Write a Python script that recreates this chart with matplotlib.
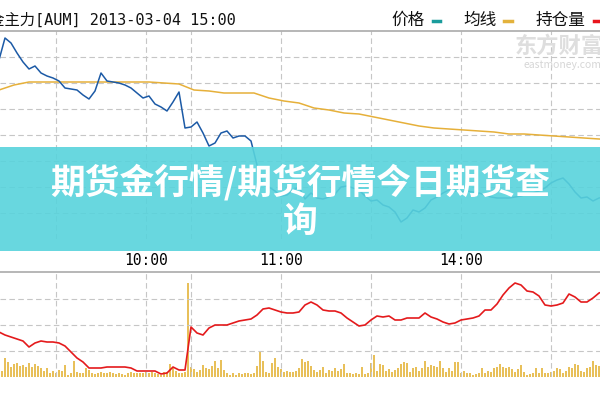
import matplotlib
matplotlib.use("Agg")
import matplotlib.pyplot as plt
from matplotlib.patches import Rectangle
from matplotlib.lines import Line2D
import numpy as np

plt.rcParams['font.family'] = ['Noto Sans CJK SC', 'DejaVu Sans']

# 黄金主力 AUM 分时图, 2013-03-04
# x axis = trading minutes counted from 9:00 (breaks 10:15-10:30 and 11:30-13:30 removed)
header = '黄金主力[AUM] 2013-03-04 15:00'
title = '期货金行情/期货行情今日期货查\n询'
legend_names = ['价格', '均线', '持仓量']
legend_colors = ['#1a9c9c', '#e3b23c', '#e8141c']

tick_minutes = [30, 60, 75, 105, 135, 165, 195]
tick_labels = ['', '10:00', '', '11:00', '', '14:00', '']

# price, one value every 2 minutes starting at minute 11
price = [344.0, 346.2, 345.7, 344.7, 343.8, 343.1, 343.4, 342.7, 342.4, 342.2,
         341.9, 341.2, 341.1, 341.0, 340.5, 340.1, 340.9, 342.7, 341.9, 341.8,
         341.7, 341.5, 341.2, 340.7, 340.2, 340.4, 339.6, 339.3, 338.9, 339.8,
         340.8, 337.2, 337.3, 337.8, 336.7, 335.4, 335.7, 336.7, 336.9, 336.2,
         336.4, 336.4, 335.9, 333.5, 331.5, 331.3, 330.9, 330.4, 330.5, 331.0,
         331.3, 330.1, 330.7, 330.2, 330.1, 330.3, 330.6, 331.3, 331.4, 331.2,
         331.0, 330.4, 329.9, 330.0, 329.5, 329.3, 328.8, 327.8, 328.2, 329.0,
         328.8, 329.2, 330.0, 330.3, 330.7, 331.0, 330.9, 330.8, 330.9, 330.8,
         330.7, 330.5, 330.3, 330.2, 330.2, 330.2, 330.3, 330.4, 330.6, 330.7,
         330.9, 331.2, 331.7, 332.0, 332.2, 331.6, 330.8, 330.2, 330.3, 329.9,
         330.2, 330.3]

# average price, one value every 5 minutes starting at minute 11
avg_price = [341.0, 341.5, 341.8, 341.8, 341.8, 341.8, 341.8, 341.8, 341.8, 341.8,
             341.8, 341.7, 341.6, 341.0, 340.9, 340.7, 340.7, 340.7, 340.2, 339.9,
             339.7, 339.2, 339.0, 338.7, 338.6, 338.3, 338.0, 337.7, 337.4, 337.2,
             337.1, 337.0, 336.9, 336.8, 336.6, 336.6, 336.5, 336.4, 336.3, 336.2,
             336.1, 336.0]

# open interest (hundred lots), one value every 2 minutes starting at minute 11
open_int = [668, 665, 663, 661, 659, 653, 657, 659, 658, 658,
            657, 654, 648, 642, 638, 632, 632, 632, 633, 633,
            633, 633, 632, 629, 629, 629, 629, 626, 627, 633,
            630, 630, 673, 667, 665, 672, 675, 675, 675, 677,
            679, 680, 681, 685, 691, 692, 690, 688, 687, 687,
            688, 695, 698, 695, 690, 689, 689, 687, 682, 678,
            674, 675, 680, 684, 683, 684, 680, 680, 682, 682,
            682, 687, 683, 681, 678, 676, 677, 680, 681, 682,
            684, 690, 690, 696, 705, 712, 717, 715, 709, 708,
            704, 695, 694, 695, 697, 706, 703, 698, 698, 702,
            707, 709]

# volume (x10 lots), one bar per minute starting at minute 11
volume = [8, 6, 19, 15, 10, 13, 14, 11, 12, 10, 14, 10, 13, 11, 9, 6, 9, 4, 6, 4,
          7, 6, 12, 2, 4, 16, 5, 4, 4, 9, 7, 4, 3, 4, 5, 4, 4, 5, 4, 3,
          4, 3, 2, 4, 5, 4, 4, 4, 4, 5, 4, 5, 4, 3, 2, 5, 5, 13, 10, 6,
          4, 4, 5, 94, 10, 8, 5, 7, 12, 9, 8, 11, 16, 9, 17, 7, 4, 2, 4, 2,
          4, 3, 4, 4, 3, 4, 11, 25, 16, 5, 4, 14, 19, 10, 8, 5, 6, 5, 5, 6,
          9, 18, 15, 16, 11, 7, 5, 7, 10, 4, 7, 6, 9, 6, 8, 13, 4, 4, 3, 4,
          3, 10, 3, 4, 14, 22, 6, 13, 12, 6, 8, 5, 7, 9, 13, 15, 14, 5, 9, 10,
          6, 9, 16, 10, 12, 11, 10, 16, 9, 5, 9, 6, 15, 15, 4, 6, 4, 4, 2, 3,
          4, 9, 4, 6, 5, 9, 10, 13, 10, 9, 10, 8, 5, 8, 12, 5, 2, 3, 4, 9,
          4, 9, 4, 4, 5, 6, 9, 8, 4, 6, 10, 9, 13, 12, 6, 5, 9, 10, 16, 12,
          11, 7, 6]

t_price = 11 + 2 * np.arange(len(price))
t_avg = 11 + 5 * np.arange(len(avg_price))
t_oi = 11 + 2 * np.arange(len(open_int))
t_vol = 11 + np.arange(len(volume))

grid_kw = dict(color='#c6c6c6', linestyle=(0, (5, 3)), linewidth=0.8)

fig = plt.figure(figsize=(6, 4), dpi=100)
fig.patch.set_facecolor('white')

# upper panel: price + average
ax1 = fig.add_axes([0, 0.4025, 1, 0.52])
ax1.plot(t_price, price, color='#1c5aa6', linewidth=1.1, zorder=3)
ax1.plot(t_avg, avg_price, color='#e6b03a', linewidth=1.1, zorder=2)
ax1.set_xlim(34 / 3, 634 / 3)
ax1.set_ylim(326.1, 346.9)
ax1.set_yticks([344.3, 341.7, 339.1, 336.5, 333.9, 331.3, 328.7])
ax1.set_xticks(tick_minutes, tick_labels)
ax1.grid(True, **grid_kw)
ax1.tick_params(axis='y', length=0, labelleft=False)
ax1.tick_params(axis='x', length=0, pad=10, labelsize=10.5)
for lab in ax1.get_xticklabels():
    lab.set_fontfamily(['DejaVu Sans Mono'])
for s in ['left', 'right', 'bottom']:
    ax1.spines[s].set_visible(False)
ax1.spines['top'].set_color('#aaaaaa')
ax1.spines['top'].set_linewidth(1.2)

# lower panel: volume bars + open interest
ax2 = fig.add_axes([0, 0.0575, 1, 0.2625])
ax3 = ax2.twinx()
ax3.bar(t_vol, volume, width=0.5, color='#e8c05a')
ax3.set_ylim(0, 105)
ax3.axis('off')
ax2.set_zorder(ax3.get_zorder() + 1)
ax2.patch.set_visible(False)
ax2.plot(t_oi, open_int, color='#e41a1c', linewidth=1.2)
ax2.set_xlim(34 / 3, 634 / 3)
ax2.set_ylim(623, 728)
ax2.set_yticks([701, 675, 649])
ax2.set_xticks(tick_minutes)
ax2.grid(True, **grid_kw)
ax2.tick_params(length=0, labelleft=False, labelbottom=False)
for s in ['left', 'right', 'bottom']:
    ax2.spines[s].set_visible(False)
ax2.spines['top'].set_color('#aaaaaa')
ax2.spines['top'].set_linewidth(1.2)

# header and legend
fig.text(-0.043, 0.95, header, fontsize=11, va='center', ha='left',
         family=['DejaVu Sans Mono', 'Noto Sans CJK SC'], color='#111111')
legend_x = [0.653, 0.772, 0.893]
for name, col, lx in zip(legend_names, legend_colors, legend_x):
    fig.text(lx, 0.95, name, fontsize=12, va='center', ha='left', color='#111111')
    x0 = lx + len(name) * 0.0283 + 0.012
    fig.add_artist(Line2D([x0, x0 + 0.012], [0.948, 0.948], color=col,
                          linewidth=2.5, transform=fig.transFigure))

# watermark
fig.text(0.858, 0.885, '东方财富', fontsize=16, fontweight='bold', color='#dedede',
         va='center', ha='left')
fig.text(0.872, 0.838, 'eastmoney.com', fontsize=7.5, color='#d6d6d6',
         va='center', ha='left')

# banner over the chart
fig.add_artist(Rectangle((0, 1 - 251 / 400), 1, 104 / 400, transform=fig.transFigure,
                         facecolor='#58d3dc', alpha=0.9, edgecolor='none', zorder=5))
fig.text(0.5, 0.497, title, fontsize=25, fontweight='bold', color='white',
         ha='center', va='center', linespacing=1.1, zorder=6)

fig.savefig('out.png', dpi=100)
